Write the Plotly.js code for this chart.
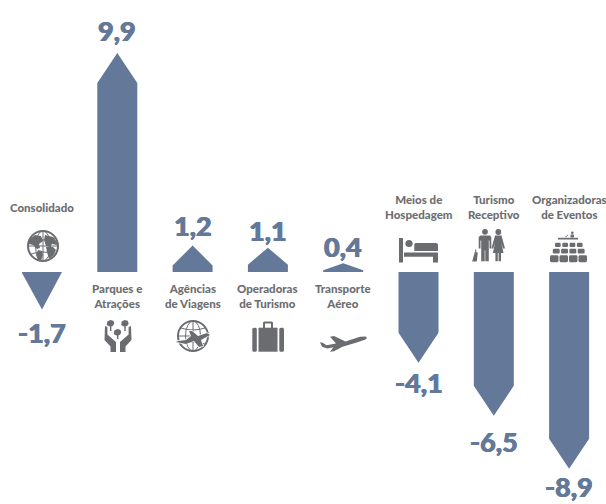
<!DOCTYPE html>
<html>
<head>
<meta charset="utf-8">
<script src="https://cdn.plot.ly/plotly-3.0.1.min.js"></script>
<style>html,body{margin:0;padding:0;background:#fff}#chart{width:606px;height:504px}</style>
</head>
<body>
<div id="chart"></div>
<script>
// Variation by tourism segment
const categories = ['Consolidado', 'Parques e<br>Atrações', 'Agências<br>de Viagens', 'Operadoras<br>de Turismo',
  'Transporte<br>Aéreo', 'Meios de<br>Hospedagem', 'Turismo<br>Receptivo', 'Organizadoras<br>de Eventos'];
const values = [-1.7, 9.9, 1.2, 1.1, 0.4, -4.1, -6.5, -8.9];

// Arrow geometry and label placement, in pixels
const W = 606, H = 504;
const pxPerUnit = 22.12, baselinePx = 272;
const firstCenterPx = 42, stepPx = 75.3, halfBar = 20 / stepPx;
const headDepthPx = [36.5, 30, 20, 17, 7, 30, 30, 30];
const valueOffsetPx = [23, 23, 20, 17, 17, 20, 26, 18];
const namePx = [207.5, 296, 296, 296, 296, 206.5, 206.5, 206.5];

const BLUE = '#64799a', GREY = '#6d6e71', INK = '#6b6c6f';
const FONT = 'Lato, Carlito, Calibri, sans-serif';
const HEAVY = `0.45px 0 0 ${BLUE}, -0.45px 0 0 ${BLUE}`;

// One closed polygon per arrow, separated by nulls
const xs = [], ys = [];
values.forEach((v, i) => {
  const s = Math.sign(v), head = headDepthPx[i] / pxPerUnit;
  const shoulder = v - s * head;
  xs.push(i - halfBar, i - halfBar, i, i + halfBar, i + halfBar, i - halfBar, null);
  ys.push(0, shoulder, v, shoulder, 0, 0, null);
});

const arrows = {
  type: 'scatter', mode: 'lines', x: xs, y: ys, fill: 'toself', fillcolor: BLUE,
  line: {width: 0, color: BLUE}, hoverinfo: 'skip', showlegend: false
};

const annotations = [];
values.forEach((v, i) => {
  annotations.push({
    x: i, y: v, xref: 'x', yref: 'y', showarrow: false, xanchor: 'center', yanchor: 'middle',
    yshift: Math.sign(v) * valueOffsetPx[i],
    text: v.toFixed(1).replace('.', ','),
    font: {family: FONT, size: 27, color: BLUE, weight: 900, shadow: HEAVY}
  });
  annotations.push({
    x: i, y: 1 - namePx[i] / H, xref: 'x', yref: 'paper', showarrow: false,
    xanchor: 'center', yanchor: 'middle', align: 'center',
    text: categories[i],
    font: {family: FONT, size: 11.5, color: GREY, weight: 900}
  });
});

// Segment pictograms, each drawn in page pixel units inside its own box
function icon(x0, y0, w, h, body) {
  const svg = `<svg xmlns="http://www.w3.org/2000/svg" viewBox="${x0} ${y0} ${w} ${h}" width="${w}" height="${h}">` +
    `<g fill="${INK}" stroke="none">${body}</g></svg>`;
  return {
    source: 'data:image/svg+xml;charset=utf-8,' + encodeURIComponent(svg),
    xref: 'paper', yref: 'paper', x: x0 / W, y: 1 - y0 / H,
    sizex: w / W, sizey: h / H, xanchor: 'left', yanchor: 'top', sizing: 'stretch', layer: 'above'
  };
}
function globeGrid(cx, cy) {
  return `<g fill="none" stroke="${INK}">` +
    `<circle cx="${cx}" cy="${cy}" r="15" stroke-width="2"/>` +
    `<ellipse cx="${cx}" cy="${cy}" rx="7.5" ry="15" stroke-width="1"/>` +
    `<path d="M${cx} ${cy - 15}V${cy + 15}M${cx - 15} ${cy}H${cx + 15}M${cx - 12} ${cy - 8}Q${cx} ${cy - 4} ${cx + 12} ${cy - 8}M${cx - 12} ${cy + 8}Q${cx} ${cy + 4} ${cx + 12} ${cy + 8}" stroke-width="1"/></g>`;
}
const images = [
  // World globe with continents
  icon(26, 229, 34, 34, globeGrid(43, 246) +
    `<path d="M29 240l6-5 6 1 2 5-4 3 1 4-3 1-4-4-4-1zM38 250l4 1 1 4-2 6-3-1-2-5zM45 235l8 2 4 5 0 3-5-1-2 3-4-1-2-6zM46 247l7 0 3 3-3 6-4 3-2-7z"/>`),
  // Hands holding trees
  icon(103, 319, 30, 34,
    `<path d="M107.300 321.500l3-1.500 3 .8 1 2.700-1.500 2.500-3.500.5-2.500-1.500zM121.700 321.500l3-1.500 3 .8 1 2.700-1.500 2.500-3.500.5-2.500-1.500zM114.300 330.500l3-1.500 3 .8 1 2.700-1.500 2.500-3.500.5-2.500-1.500z"/>` +
    `<path d="M110 325h1.400v6h-1.400zM124.300 325h1.400v6h-1.400zM117 334h1.400v5h-1.400z"/>` +
    `<path d="M105 326l2.400 1v7.500l8.600 7.500v10h-5.500v-5.500l-6-6.500z"/>` +
    `<path d="M131 326l-2.400 1v7.500l-8.600 7.500v10h5.500v-5.500l6-6.500z"/>`),
  // Airplane crossing a globe
  icon(176, 319, 34, 34, globeGrid(193, 336) +
    `<path d="M176 342l2-1 8-1 5-4-2-5 3 0 6 5 9-3 3 2-9 5 2 6-4 1-5-6-8 3z" stroke="#fff" stroke-width="1.4" paint-order="stroke"/>`),
  // Suitcase
  icon(250, 320, 36, 34,
    `<path d="M263 328v-5a1.500 1.500 0 0 1 1.500-1.500h7a1.500 1.500 0 0 1 1.500 1.500v5h-2v-4.500h-6v4.500z"/>` +
    `<rect x="252.300" y="327.700" width="4.500" height="24" rx="1.500"/>` +
    `<rect x="258.500" y="327.700" width="19" height="24"/>` +
    `<rect x="279.300" y="327.700" width="4.700" height="24" rx="1.500"/>`),
  // Airplane
  icon(318, 333, 51, 21,
    `<path d="M367 337.700l-1.500 1.700-8 2.800-15 4.500-8.500 4.600-4 .4 3.500-4.500-6 1.300-5.500-1.700-2-4.500 2.700.4 3.800 2.600 9.500-1.800-6-6.800 4-.6 11.500 5.300 14.500-4.600 5.500-.2z"/>`),
  // Bed
  icon(397, 236, 43, 29,
    `<rect x="399" y="238" width="4" height="24.500"/><circle cx="409" cy="243.500" r="3.600"/>` +
    `<path d="M414.300 244.500a1.500 1.500 0 0 1 1.500-1.500h20.200a2 2 0 0 1 2 2v6h-23.700z"/>` +
    `<path d="M404 252.500h34v10h-5v-5.800h-29z"/>`),
  // Travelling couple
  icon(470, 228, 37, 36,
    `<circle cx="485" cy="231.800" r="2.900"/><circle cx="498.300" cy="232" r="2.900"/>` +
    `<path d="M480.500 235.500h9.500l1.300 1.500v11.500h-1.800v-8h-.7v20.800h-3.500v-11h-.6v11h-3.500v-20.800h-.7v8h-1.800v-11.500z"/>` +
    `<path d="M495 235.500h6.500l3.500 13h-1.900l-1.800-6 2.200 10.500h-2.500v8.300h-2.400v-8.300h-.8v8.300h-2.400v-8.300h-2.500l2.200-10.500-1.800 6h-1.900z"/>` +
    `<path d="M474.800 252l3 .6-1 8.900h-4.600zM475 249.500h1.100l.4 3h-1.100z"/>`),
  // Seated audience facing a speaker's table
  icon(548, 230, 42, 34,
    `<circle cx="572.300" cy="232.700" r="1.300"/><path d="M570.500 234.500h3.500v3h-3.500zM565 237l3-2.500.5.6-3 2.400z"/>` +
    `<rect x="558" y="237.800" width="20" height="1.700"/>` +
    [555, 562.300, 569.600, 576.900].map(x => `<rect x="${x}" y="242.700" width="5.700" height="4.200" rx="1.200"/>`).join('') +
    [552.800, 561.100, 569.400, 577.700].map(x => `<rect x="${x}" y="248.700" width="6.900" height="4.800" rx="1.200"/>`).join('') +
    [550, 559.500, 569, 578.500].map(x => `<rect x="${x}" y="255.300" width="8.500" height="6.900" rx="1.400"/>`).join(''))
];

const layout = {
  width: W, height: H, margin: {l: 0, r: 0, t: 0, b: 0},
  paper_bgcolor: '#fff', plot_bgcolor: '#fff', showlegend: false,
  xaxis: {visible: false, fixedrange: true, range: [-firstCenterPx / stepPx, (W - firstCenterPx) / stepPx]},
  yaxis: {visible: false, fixedrange: true, range: [-(H - baselinePx) / pxPerUnit, baselinePx / pxPerUnit]},
  annotations, images
};

Plotly.newPlot('chart', [arrows], layout, {displayModeBar: false, staticPlot: true});
</script>
</body>
</html>
